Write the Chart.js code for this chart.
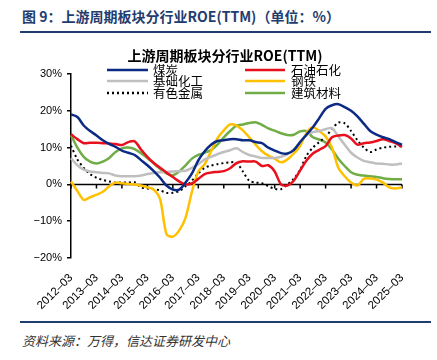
<!DOCTYPE html>
<html>
<head>
<meta charset="utf-8">
<script src="https://cdn.jsdelivr.net/npm/chart.js@4.4.1/dist/chart.umd.min.js"></script>
<style>
  body { margin: 0; width: 437px; height: 360px; background: #fff; position: relative; overflow: hidden; }
  #head { position: absolute; left: 22px; top: 6px; font: bold 14px "Noto Sans CJK SC", sans-serif; color: #1f3d6e; white-space: nowrap; }
  .rule { position: absolute; left: 20px; width: 411px; background: #1f3d6e; }
  #src { position: absolute; left: 22px; top: 331px; font: italic 13px "Noto Sans CJK SC", sans-serif; color: #333; white-space: nowrap; }
  #c { position: absolute; left: 0; top: 40px; }
</style>
</head>
<body>
<div id="head">图 9：上游周期板块分行业ROE(TTM)（单位：%）</div>
<div class="rule" style="top:31px;height:2px;"></div>
<canvas id="c" width="437" height="280"></canvas>
<div class="rule" style="top:321px;height:2px;"></div>
<div id="src">资料来源：万得，信达证券研发中心</div>
<script>
// quarterly points, 2012-03 .. 2025-03
const years = ['2012','2013','2014','2015','2016','2017','2018','2019','2020','2021','2022','2023','2024','2025'];
const months = ['03','06','09','12'];
const quarters = [];
years.forEach(y => months.forEach(m => { if (!(y === '2025' && m !== '03')) quarters.push(y + '-' + m); }));

const coal = [19, 18.3, 16, 14.5, 13.3, 12, 11, 10.2, 9.2, 8.6, 8, 6.6, 5.2, 3.6, 1.8, -0.3,
  -1.4, -1.4, 0.5, 3, 6.5, 9, 10.8, 11.8, 12, 12.3, 12.3, 12, 12, 11.5, 11.2, 10, 9.2, 8.5,
  8.4, 9.3, 11.5, 13.5, 15.5, 18, 20.5, 21.5, 21.8, 21, 20, 18.5, 16.5, 14.5, 13.5, 12.8, 12.3, 11.5, 10.8];
const petro = [13.6, 12.3, 11.2, 11.3, 11.3, 11.2, 11.1, 11, 10.7, 11.5, 11.7, 9.5, 7.5, 5.8, 4.5, 3.2,
  2, 0.8, 0, 0.3, 1.5, 2.8, 3.2, 3.4, 3.6, 4.4, 5.8, 6.3, 6.2, 6.2, 5, 5.2, 3.5, 0,
  -0.3, 1, 3.8, 6.5, 8.4, 9.4, 10.4, 12.8, 13.3, 13.4, 12.5, 10.8, 11.2, 11.4, 11.8, 12.3, 11.8, 11.2, 10.2];
const chem = [7.1, 5.2, 4, 3.5, 3.3, 3.1, 3, 2.4, 2.2, 2.2, 2.2, 2.4, 2.8, 3.1, 3.3, 3.4,
  3.5, 3.6, 3.7, 4.5, 5.5, 6.8, 7.5, 8.2, 8.8, 9.3, 9.8, 8.8, 8, 7.6, 7.2, 7.2, 7.2, 7.5,
  8.2, 9.5, 11.5, 13.5, 14.2, 14.5, 15, 15.3, 13, 10.8, 8.6, 7.3, 6.4, 6, 5.7, 5.6, 5.4, 5.4, 5.7];
const steel = [0.8, -1.8, -4.2, -3.5, -2.8, -2, -0.5, 0.5, 0.3, 0.1, 0, -0.3, -0.8, -1.4, -4, -13.5,
  -14.2, -12.5, -9, -2, 3.5, 5.5, 9, 12.5, 14.7, 16.3, 16, 14.7, 12.8, 10.8, 9, 7.8, 7, 6,
  6.8, 8.4, 10.5, 14, 15.5, 14.5, 13, 10, 4.5, 2.2, 0.5, -0.3, 1.5, 1.6, 1.3, 0.5, -0.8, -1.1, -0.8];
const metals = [10.5, 6.8, 4.5, 2.8, 1.8, 1.2, 0.8, 0.5, 0.5, 0.5, 0.6, -0.8, -1.1, -1.3, -1.6, -2.3,
  -2.3, -1.8, -0.5, 1, 3, 4.5, 5.1, 5.5, 5.8, 6, 5.9, 3.5, 1, 0.5, 0.3, -0.5, -1.2, -1.3,
  0, 1.5, 4, 7.8, 10, 11.5, 13, 15, 16.8, 16.6, 14.5, 12, 10, 8.8, 9.5, 10, 10.2, 10.3, 10.4];
const building = [13.4, 10, 7.5, 6.2, 5.7, 6.2, 7.2, 8.8, 9.8, 10, 9.6, 8.5, 7.2, 5.7, 4.2, 3,
  2.5, 3.5, 5.2, 7, 8, 8.6, 9.3, 10.8, 12.8, 14.5, 16, 16.3, 16.7, 16.9, 16.2, 15.2, 14.6, 13.9,
  13.4, 13.5, 14.4, 14.5, 12.8, 12.2, 11.4, 9.5, 7, 5, 3.3, 2.6, 2.4, 2.2, 2, 1.7, 1.5, 1.4, 1.4];

const yTicks = [-20, -10, 0, 10, 20, 30];
const chartTitle = '上游周期板块分行业ROE(TTM)';

const cjk = '"Noto Sans CJK SC", sans-serif';
const latin = '"Liberation Sans", Arial, sans-serif';

// title, two-column legend, zero line with year ticks
const decor = {
  id: 'decor',
  beforeDatasetsDraw(chart) {
    const { ctx, chartArea, scales } = chart;
    const y0 = scales.y.getPixelForValue(0);
    ctx.save();
    ctx.strokeStyle = '#000';
    ctx.lineWidth = 1.5;
    ctx.beginPath();
    ctx.moveTo(chartArea.left, y0);
    ctx.lineTo(chartArea.right, y0);
    quarters.forEach((q, i) => {
      if (q.endsWith('-03')) {
        const x = scales.x.getPixelForValue(i);
        ctx.moveTo(x, y0);
        ctx.lineTo(x, y0 + 4);
      }
    });
    ctx.stroke();
    ctx.restore();
  },
  afterDraw(chart) {
    const ctx = chart.ctx;
    ctx.save();
    ctx.fillStyle = '#000';
    ctx.font = 'bold 14px ' + cjk;
    ctx.textAlign = 'center';
    ctx.textBaseline = 'middle';
    ctx.fillText(chartTitle, 225, 16);

    ctx.font = '12.5px ' + cjk;
    ctx.textAlign = 'left';
    const cols = [[107, 148, 153], [245, 285, 291]];
    const rows = [30, 41, 53];
    chart.data.datasets.forEach((ds, i) => {
      const c = cols[i % 2], y = rows[Math.floor(i / 2)];
      ctx.strokeStyle = ds.borderColor;
      ctx.lineWidth = 2.5;
      ctx.setLineDash(ds.borderDash || []);
      ctx.beginPath();
      ctx.moveTo(c[0], y);
      ctx.lineTo(c[1], y);
      ctx.stroke();
      ctx.setLineDash([]);
      ctx.fillStyle = '#000';
      ctx.fillText(ds.label, c[2], y);
    });
    ctx.restore();
  }
};

const line = (label, data, color, dash) => ({
  label, data, borderColor: color, borderWidth: dash ? 2 : 2.5,
  borderDash: dash, pointRadius: 0, tension: 0.3, fill: false
});

new Chart(document.getElementById('c'), {
  type: 'line',
  data: {
    labels: quarters,
    datasets: [
      line('煤炭', coal, '#0b2a84'),
      line('石油石化', petro, '#e8101c'),
      line('基础化工', chem, '#bfbfbf'),
      line('钢铁', steel, '#ffc000'),
      line('有色金属', metals, '#000000', [2, 3]),
      line('建筑材料', building, '#70ad47')
    ]
  },
  options: {
    responsive: false,
    animation: false,
    layout: { padding: { left: 0, right: 35, top: 34, bottom: 0 } },
    plugins: { legend: { display: false }, title: { display: false }, tooltip: { enabled: false } },
    scales: {
      x: {
        type: 'category',
        offset: false,
        grid: { display: false },
        border: { display: false },
        ticks: {
          autoSkip: false, minRotation: 45, maxRotation: 45, padding: 5,
          color: '#000', font: { size: 11.5, family: latin },
          callback(v) {
            const l = this.getLabelForValue(v);
            return l.endsWith('-03') ? l.replace('-', '–') : '';
          }
        },
        afterFit(s) { s.height = 62; }
      },
      y: {
        min: -20, max: 30,
        afterBuildTicks(s) { s.ticks = yTicks.map(v => ({ value: v })); },
        ticks: {
          color: '#000', font: { size: 11, family: latin }, padding: 5,
          callback: v => (v < 0 ? '−' + (-v) : v) + '%'
        },
        grid: { drawOnChartArea: false, tickLength: 4, color: '#000', lineWidth: 1.5 },
        border: { color: '#000', width: 1.5 },
        afterFit(s) { s.width = 71; }
      }
    }
  },
  plugins: [decor]
});
</script>
</body>
</html>
